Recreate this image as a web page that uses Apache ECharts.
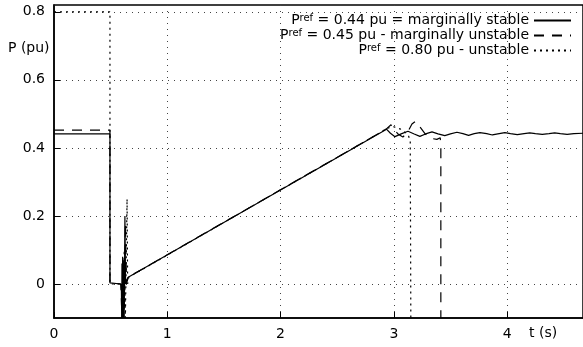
<!DOCTYPE html>
<html>
<head>
<meta charset="utf-8">
<script src="https://cdn.jsdelivr.net/npm/echarts@6/dist/echarts.min.js"></script>
<style>
  html, body { margin: 0; padding: 0; background: #fff; }
  #wrap { position: relative; width: 583px; height: 347px; }
  #frame, #chart { position: absolute; left: 0; top: 0; width: 583px; height: 347px; }
</style>
</head>
<body>
<div id="wrap"><div id="frame"></div><div id="chart"></div></div>
<script>
// tick labels
const xTicks = [0, 1, 2, 3, 4];
const yTicks = [0, 0.2, 0.4, 0.6, 0.8];

// legend names
const names = ["P044", "P045", "P080"];
const legendText = {
  P044: "{p|P}{s|ref}{p| = 0.44 pu = marginally stable}",
  P045: "{p|P}{s|ref}{p| = 0.45 pu - marginally unstable}",
  P080: "{p|P}{s|ref}{p| = 0.80 pu - unstable}",
};

// [t (s), P (pu)]
const stable044 = [
  [0, 0.441], [0.494, 0.441], [0.494, 0.003], [0.5, 0], [0.59, 0], [0.595, -0.02],
  [0.598, -0.1], [0.600, 0.06], [0.603, -0.1], [0.606, 0.08], [0.609, -0.1], [0.612, 0.07],
  [0.615, -0.1], [0.618, 0.05], [0.621, -0.05], [0.626, 0.20], [0.632, 0.0], [0.638, 0.01],
  [0.645, 0.005], [0.655, 0.02],
  [2.89, 0.446], [2.935, 0.455], [2.97, 0.443], [3.01, 0.433], [3.07, 0.442], [3.125, 0.449],
  [3.18, 0.441], [3.23, 0.434], [3.28, 0.441], [3.337, 0.447], [3.39, 0.441], [3.45, 0.436],
  [3.5, 0.441], [3.557, 0.446], [3.61, 0.442], [3.66, 0.437], [3.71, 0.442], [3.76, 0.445],
  [3.82, 0.442], [3.87, 0.438], [3.93, 0.442], [3.98, 0.445], [4.03, 0.442], [4.09, 0.439],
  [4.15, 0.442], [4.2, 0.444], [4.25, 0.442], [4.31, 0.44], [4.37, 0.442], [4.42, 0.444],
  [4.47, 0.442], [4.53, 0.44], [4.59, 0.442], [4.67, 0.443]
];
const unstable045 = [
  [0, 0.452], [0.494, 0.452], [0.494, 0.003], [0.5, 0], [0.59, 0], [0.6, -0.1], [0.61, 0.07],
  [0.62, -0.1], [0.63, 0.18], [0.64, 0.0], [0.655, 0.02],
  [2.89, 0.447], [2.935, 0.456], [2.975, 0.468], [3.0, 0.455], [3.04, 0.44], [3.08, 0.432],
  [3.12, 0.445], [3.16, 0.47], [3.19, 0.478], [3.23, 0.462], [3.28, 0.44], [3.33, 0.428],
  [3.38, 0.425], [3.41, 0.43], [3.415, 0.40], [3.415, -0.1]
];
const unstable080 = [
  [0, 0.8], [0.494, 0.8], [0.494, 0.0], [0.5, 0], [0.6, 0], [0.61, -0.1], [0.62, 0.1],
  [0.63, -0.1], [0.645, 0.25], [0.65, 0.0], [0.66, 0.02],
  [2.89, 0.447], [2.94, 0.458], [3.0, 0.462], [3.06, 0.455], [3.1, 0.445], [3.13, 0.435],
  [3.145, 0.42], [3.15, -0.1]
];

const font = "DejaVu Sans";
const grid = { left: 54, right: 0, top: 5, bottom: 29, outerBoundsMode: "none" };
const xRange = { type: "value", min: 0, max: 4.67, interval: 1 };
const yRange = { type: "value", min: -0.1, max: 0.82 };

// frame layer: border, axes, ticks, grid lines, tick labels
const frame = echarts.init(document.getElementById("frame"));
frame.setOption({
  animation: false,
  grid: { ...grid, show: true, borderColor: "#000", borderWidth: 1.5 },
  xAxis: {
    ...xRange,
    axisLine: { show: true, onZero: false, lineStyle: { color: "#000", width: 1.5 } },
    axisTick: { show: true, inside: true, length: 6, lineStyle: { color: "#000", width: 1 } },
    axisLabel: { color: "#000", fontSize: 14, fontFamily: font, margin: 9, customValues: xTicks },
    splitLine: { show: true, lineStyle: { color: "#444", width: 1, type: [1, 5] } },
  },
  yAxis: {
    ...yRange,
    axisLine: { show: true, onZero: false, lineStyle: { color: "#000", width: 1.5 } },
    axisTick: { show: true, inside: true, length: 6, lineStyle: { color: "#000", width: 1 }, customValues: yTicks },
    axisLabel: { color: "#000", fontSize: 14, fontFamily: font, margin: 9, customValues: yTicks },
    splitLine: { show: true, lineStyle: { color: "#444", width: 1, type: [1, 5] } },
  },
  series: [{ type: "line", data: [] }],
});

// data layer: same grid and scales, curves, legend, axis titles
const chart = echarts.init(document.getElementById("chart"));
const hidden = { axisLine: { show: false }, axisTick: { show: false }, axisLabel: { show: false }, splitLine: { show: false } };
const lineSeries = (name, data, type) => ({
  name, type: "line", data, symbol: "none", clip: true,
  lineStyle: { color: "#000", width: 1.2, type },
  itemStyle: { color: "#000" },
});
chart.setOption({
  animation: false,
  grid,
  xAxis: { ...xRange, ...hidden },
  yAxis: { ...yRange, ...hidden },
  legend: {
    data: names,
    orient: "vertical",
    align: "right",
    right: 11,
    top: 13,
    padding: 0,
    itemWidth: 37,
    itemHeight: 10,
    itemGap: 0,
    itemStyle: { opacity: 0 },
    formatter: name => legendText[name],
    textStyle: {
      rich: {
        p: { fontFamily: font, fontSize: 14, color: "#000", lineHeight: 15 },
        s: { fontFamily: font, fontSize: 10, color: "#000", verticalAlign: "top", lineHeight: 15, padding: [0, 0, 5, 0] },
      },
    },
  },
  graphic: [
    { type: "text", left: 8, top: 41, style: { text: "P (pu)", fontFamily: font, fontSize: 14, fill: "#000" } },
    { type: "text", left: 529, top: 326, style: { text: "t (s)", fontFamily: font, fontSize: 14, fill: "#000" } },
  ],
  series: [
    lineSeries("P044", stable044, "solid"),
    lineSeries("P045", unstable045, [10, 8]),
    lineSeries("P080", unstable080, [2, 4]),
  ],
});
</script>
</body>
</html>
